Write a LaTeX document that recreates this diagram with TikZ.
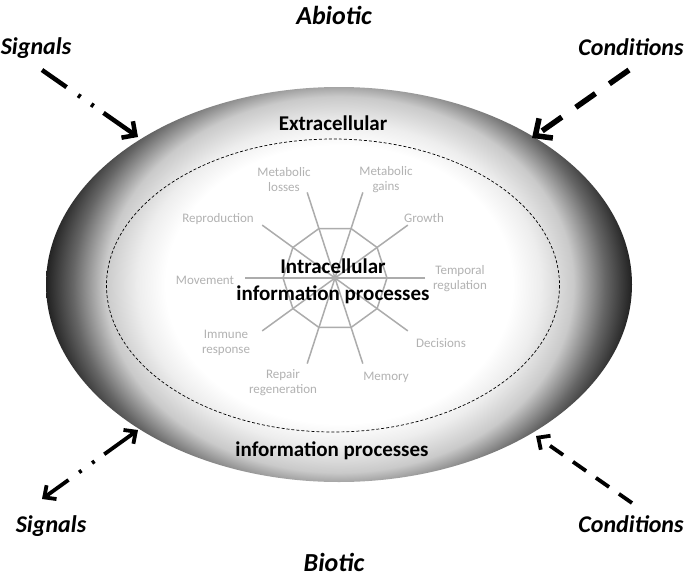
\documentclass[tikz,border=0pt]{standalone}
\usepackage{fontspec}
\setmainfont{Carlito}
\usetikzlibrary{arrows.meta}

\definecolor{webgray}{HTML}{ACACAC}
\definecolor{lblgray}{HTML}{B2B2B2}

% grey rim of the cell, white in the middle
\pgfdeclareradialshading{cellglow}{\pgfpoint{0bp}{0bp}}{%
  color(0bp)=(white); color(14.8bp)=(white); color(17.2bp)=(black!7);
  color(20bp)=(black!21); color(22.7bp)=(black!60); color(25bp)=(black!87);
  color(50bp)=(black!87)}

\tikzset{
  bigtxt/.style={font=\bfseries\fontsize{21}{27}\selectfont, align=center},
  sidetxt/.style={font=\bfseries\itshape\fontsize{24}{28}\selectfont},
  envtxt/.style={font=\bfseries\itshape\fontsize{26}{30}\selectfont},
  lbl/.style={text=lblgray, font=\fontsize{13}{15}\selectfont, align=center, inner sep=0pt},
  web/.style={draw=webgray, line width=1.5pt},
  sigarrow/.style={line width=4.5pt, -{Straight Barb[length=10pt,width=20pt]},
    dash pattern=on 30pt off 14pt on 3pt off 13pt on 3pt off 12pt on 200pt},
  sigboth/.style={line width=3.8pt, {Straight Barb[length=9pt,width=17pt]}-{Straight Barb[length=9pt,width=17pt]},
    dash pattern=on 28pt off 13pt on 3pt off 13pt on 3pt off 12pt on 200pt},
  condarrow/.style={line width=5.5pt, -{Straight Barb[length=13pt,width=24pt]},
    dash pattern=on 24pt off 17pt},
  condthin/.style={line width=3.8pt, -{Straight Barb[length=9pt,width=17pt]},
    dash pattern=on 16pt off 12pt}
}

\begin{document}
\begin{tikzpicture}[x=1pt,y=-1pt]
\useasboundingbox (0,0) rectangle (685,578);

\def\rimx{293}
\def\rimy{197.5}

\coordinate (cell) at (339,284.5);
\coordinate (hub) at (335,278);

% cell body
\begin{scope}
\clip (cell) ellipse [x radius=\rimx, y radius=\rimy];
\shade[shading=cellglow] (cell) ellipse [x radius=\rimx, y radius=235];
\end{scope}
\draw[densely dashed, line width=0.7pt] (333,285.5) ellipse [x radius=226.5, y radius=146.5];

% web of processes
\begin{scope}[shift={(hub)}]
\foreach \a in {0,36,...,144}
  \draw[web] (\a:90) -- (\a:-90);
\draw[web] (0:52) \foreach \a in {36,72,...,324} { -- (\a:52) } -- cycle;
\end{scope}

\node[lbl] (metlos) at (284,180) {Metabolic\\losses};
\node[lbl] (metgain) at (386,180) {Metabolic\\gains};
\node[lbl] (growth) at (424,218) {Growth};
\node[lbl] (repro) at (218,219) {Reproduction};
\node[lbl] (move) at (205,280) {Movement};
\node[lbl] (temporal) at (460,279) {Temporal\\regulation};
\node[lbl] (immune) at (226,343) {Immune\\response};
\node[lbl] (decis) at (441,343) {Decisions};
\node[lbl] (repair) at (283,383) {Repair\\regeneration};
\node[lbl] (memory) at (386,377) {Memory};

\node[bigtxt] (intra) at (333,281) {Intracellular\\information processes};
\node[bigtxt] (extra) at (333,123) {Extracellular};
\node[bigtxt] (infobot) at (332,451) {information processes};

\node[envtxt] (abiotic) at (334,15) {Abiotic};
\node[envtxt] (biotic) at (334,562) {Biotic};
\node[sidetxt] (sigtop) at (36,48) {Signals};
\node[sidetxt] (condtop) at (631,47) {Conditions};
\node[sidetxt] (sigbot) at (51,526) {Signals};
\node[sidetxt] (condbot) at (631,524) {Conditions};

% inputs and outputs
\coordinate (sigtopstart) at (42,70);
\coordinate (sigtopend) at (138,137);
\coordinate (condtopstart) at (629,70);
\coordinate (condtopend) at (532,138);
\coordinate (sigbotstart) at (42,499);
\coordinate (sigbotend) at (138,430);
\coordinate (condbotstart) at (632,503);
\coordinate (condbotend) at (536,436);

\draw[sigarrow] (sigtopstart) -- (sigtopend);
\draw[condarrow] (condtopstart) -- (condtopend);
\draw[sigboth] (sigbotstart) -- (sigbotend);
\draw[condthin] (condbotstart) -- (condbotend);

\end{tikzpicture}
\end{document}
